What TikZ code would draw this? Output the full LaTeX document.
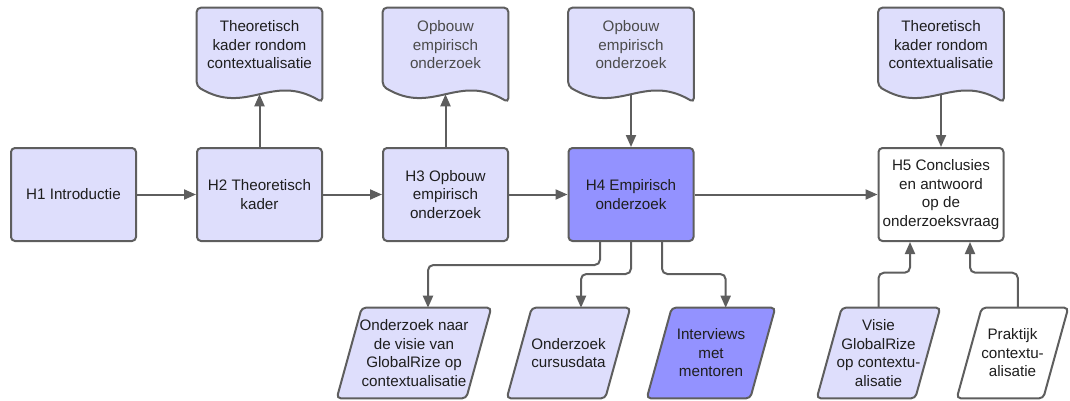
\documentclass[tikz,border=0pt]{standalone}
\usepackage{fontspec}
\setmainfont{Liberation Sans}
\usetikzlibrary{arrows.meta,backgrounds}

\definecolor{lila}{RGB}{222,222,252}
\definecolor{paars}{RGB}{147,146,255}
\definecolor{rand}{RGB}{94,94,94}
\definecolor{tekst}{RGB}{30,30,30}
\definecolor{grijstekst}{RGB}{75,75,75}

\tikzset{
  letter/.style={font=\fontsize{11.4}{13.9}\selectfont, text=tekst, align=center, inner sep=1pt},
  hoofdstuk/.style={letter, draw=rand, line width=1.5pt, fill=lila, rounded corners=3pt,
    minimum width=93.75pt, minimum height=69.75pt},
  bron/.style={letter, minimum width=93.75pt, minimum height=55.5pt},
  deel/.style={letter, minimum height=67.5pt},
  vorm/.style={draw=rand, line width=1.5pt, rounded corners=3pt},
  pijl/.style={draw=rand, line width=1.5pt, rounded corners=4pt,
    -{Triangle[length=9pt,width=7.5pt]}},
}

\begin{document}
\begin{tikzpicture}[x=0.75pt, y=-0.75pt]
\useasboundingbox (0,0) rectangle (1070,400);

% hoofdstukken
\node[hoofdstuk] (h1) at (73.5,194.5) {H1 Introductie};
\node[hoofdstuk] (h2) at (259.5,194.5) {H2 Theoretisch\\kader};
\node[hoofdstuk] (h3) at (445.5,194.5) {H3 Opbouw\\empirisch\\onderzoek};
\node[hoofdstuk, fill=paars] (h4) at (631,194.5) {H4 Empirisch\\onderzoek};
\node[hoofdstuk, fill=white] (h5) at (941,194.5) {H5 Conclusies\\en antwoord\\op de\\onderzoeksvraag};

% bronnen (document)
\node[bron] (d2) at (259.5,45) {Theoretisch\\kader rondom\\contextualisatie};
\node[bron, text=grijstekst] (d3) at (445.5,45) {Opbouw\\empirisch\\onderzoek};
\node[bron, text=grijstekst] (d4) at (631,45) {Opbouw\\empirisch\\onderzoek};
\node[bron] (d5) at (941,45) {Theoretisch\\kader rondom\\contextualisatie};

% onderdelen (parallellogram)
\node[deel, minimum width=96.75pt] (p1) at (414,353) {Onderzoek naar\\de visie van\\GlobalRize op\\contextualisatie};
\node[deel, minimum width=73.5pt] (p2) at (568.5,353) {Onderzoek\\cursusdata};
\node[deel, minimum width=77.25pt] (p3) at (711,353) {Interviews\\met\\mentoren};
\node[deel, minimum width=73.5pt] (p4) at (878.5,353) {Visie\\GlobalRize\\op contextu-\\alisatie};
\node[deel, minimum width=64.5pt] (p5) at (1012.5,353) {Praktijk\\contextu-\\alisatie};

\begin{scope}[on background layer]
\foreach \d in {d2,d3,d4,d5}
  \filldraw[vorm, fill=lila] (\d.north west) -- (\d.north east) -- ([yshift=-15pt]\d.south east)
    .. controls ([xshift=56.25pt,yshift=7.5pt]\d.south west) and ([xshift=37.5pt,yshift=-25.5pt]\d.south west)
    .. ([yshift=-3pt]\d.south west) -- cycle;
\foreach \p/\kleur in {p1/lila, p2/lila, p3/paars, p4/lila, p5/white}
  \filldraw[vorm, fill=\kleur] ([xshift=9.375pt]\p.north west) -- ([xshift=9.375pt]\p.north east)
    -- ([xshift=-9.375pt]\p.south east) -- ([xshift=-9.375pt]\p.south west) -- cycle;
\end{scope}

% hoofdlijn
\draw[pijl] (h1) -- (h2);
\draw[pijl] (h2) -- (h3);
\draw[pijl] (h3) -- (h4);
\draw[pijl] (h4) -- (h5);

% naar en van de bronnen
\draw[pijl] (h2.north) -- ([yshift=-9pt]d2.south);
\draw[pijl] (h3.north) -- ([yshift=-9pt]d3.south);
\draw[pijl] ([yshift=-9pt]d4.south) -- (h4.north);
\draw[pijl] ([yshift=-9pt]d5.south) -- (h5.north);

% onderzoek uitsplitsen
\draw[pijl] ([xshift=-23.25pt]h4.south) -- ++(0,23) -| ([xshift=10.5pt]p1.north);
\draw[pijl] (h4.south) -- ++(0,32) -| ([xshift=9.375pt]p2.north);
\draw[pijl] ([xshift=23.25pt]h4.south) -- ++(0,32) -| ([xshift=11pt]p3.north);

% terug naar de conclusie
\draw[pijl] (p4.north) -- ++(0,-35) -| ([xshift=-23.25pt]h5.south);
\draw[pijl] ([xshift=4pt]p5.north) -- ++(0,-35) -| ([xshift=21.75pt]h5.south);
\end{tikzpicture}
\end{document}
